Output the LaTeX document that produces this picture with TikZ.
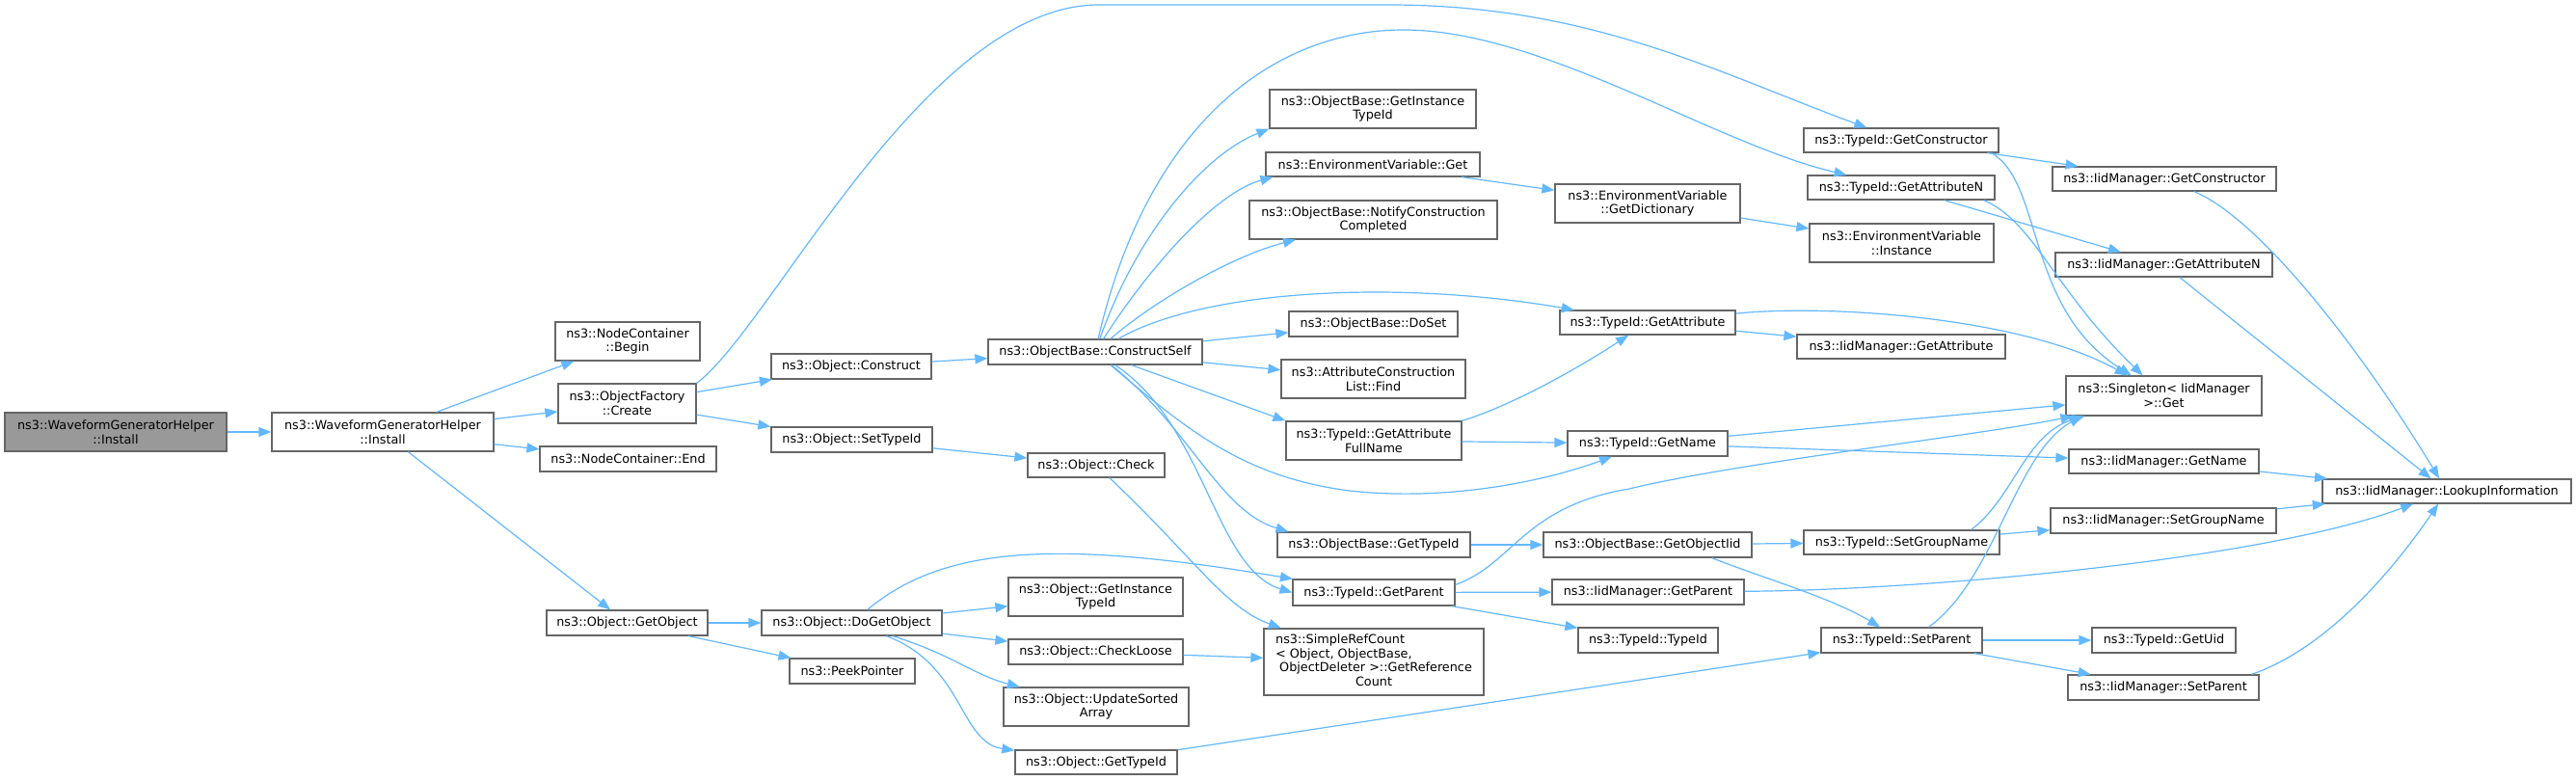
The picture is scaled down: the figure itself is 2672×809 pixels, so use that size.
\documentclass[tikz,border=0pt]{standalone}
\usepackage{fontspec}
\usetikzlibrary{arrows.meta,calc}
\newfontfamily\djv{DejaVu Sans}
\definecolor{edgeblue}{HTML}{63B8FF}
\definecolor{boxgray}{HTML}{666666}
\definecolor{rootfill}{HTML}{999999}
\newcommand\bx[7][]{\node[box,#1,minimum width={#5pt-#3pt},minimum height={#6pt-#4pt}] (#2) at ({(#3+#5)/2},{(#4+#6)/2}) {#7};}
\begin{document}
\begin{tikzpicture}[x=1pt,y=-1pt,
  box/.style={draw=boxgray,line width=1.2pt,fill=white,inner sep=0pt,align=center,font=\djv\fontsize{12.8}{14.6}\selectfont},
  edge/.style={draw=edgeblue,line width=1.2pt,-{Triangle[length=13pt,width=10pt]}}]
\useasboundingbox[fill=white] (0,0) rectangle (2672,809);
% nodes
\bx[fill=rootfill]{h1}{5}{428}{235}{468}{ns3::WaveformGeneratorHelper\\::Install}
\bx{h2}{282}{428}{512}{468}{ns3::WaveformGeneratorHelper\\::Install}
\bx{ncb}{576}{334}{726}{374}{ns3::NodeContainer\\::Begin}
\bx{ofc}{579}{398}{722}{439}{ns3::ObjectFactory\\::Create}
\bx{nce}{560}{463}{743}{489}{ns3::NodeContainer::End}
\bx{ogo}{567}{633}{734}{659}{ns3::Object::GetObject}
\bx{oc}{800}{367}{966}{393}{ns3::Object::Construct}
\bx{ost}{800}{443}{967}{469}{ns3::Object::SetTypeId}
\bx{cs}{1025}{352}{1247}{378}{ns3::ObjectBase::ConstructSelf}
\bx{ochk}{1066}{470}{1208}{495}{ns3::Object::Check}
\bx{dgo}{790}{633}{977}{659}{ns3::Object::DoGetObject}
\bx{pp}{819}{683}{949}{709}{ns3::PeekPointer}
\bx{ogit}{1046}{599}{1227}{639}{ns3::Object::GetInstance\\TypeId}
\bx{ocl}{1046}{663}{1227}{689}{ns3::Object::CheckLoose}
\bx{usa}{1041}{713}{1233}{753}{ns3::Object::UpdateSorted\\Array}
\bx{ogt}{1053}{778}{1221}{803}{ns3::Object::GetTypeId}
\bx{src}{1311}{652}{1539}{721}{\begin{tabular}{@{}l@{}}ns3::SimpleRefCount\\< Object, ObjectBase,\\\ ObjectDeleter >::GetReference\\\multicolumn{1}{@{}c@{}}{Count}\end{tabular}}
\bx{obgt}{1325}{552}{1525}{578}{ns3::ObjectBase::GetTypeId}
\bx{tgp}{1341}{601}{1509}{628}{ns3::TypeId::GetParent}
\bx{tgafn}{1334}{437}{1516}{477}{ns3::TypeId::GetAttribute\\FullName}
\bx{acl}{1329}{373}{1520}{413}{ns3::AttributeConstruction\\List::Find}
\bx{dos}{1337}{323}{1512}{349}{ns3::ObjectBase::DoSet}
\bx{ncc}{1296}{208}{1553}{248}{ns3::ObjectBase::NotifyConstruction\\Completed}
\bx{evg}{1313}{158}{1535}{183}{ns3::EnvironmentVariable::Get}
\bx{obgit}{1317}{93}{1531}{133}{ns3::ObjectBase::GetInstance\\TypeId}
\bx{evgd}{1613}{191}{1805}{231}{ns3::EnvironmentVariable\\::GetDictionary}
\bx{tga}{1618}{322}{1800}{347}{ns3::TypeId::GetAttribute}
\bx{tgc}{1871}{133}{2073}{158}{ns3::TypeId::GetConstructor}
\bx{tgan}{1875}{182}{2069}{207}{ns3::TypeId::GetAttributeN}
\bx{evi}{1877}{232}{2068}{272}{ns3::EnvironmentVariable\\::Instance}
\bx{imga}{1864}{347}{2080}{372}{ns3::IidManager::GetAttribute}
\bx{imgc}{2129}{173}{2361}{198}{ns3::IidManager::GetConstructor}
\bx{imgan}{2132}{262}{2357}{287}{ns3::IidManager::GetAttributeN}
\bx{sg}{2143}{390}{2346}{431}{ns3::Singleton< IidManager\\ >::Get}
\bx{tgn}{1626}{447}{1792}{473}{ns3::TypeId::GetName}
\bx{obgoi}{1601}{552}{1817}{578}{ns3::ObjectBase::GetObjectIid}
\bx{imgp}{1610}{601}{1809}{627}{ns3::IidManager::GetParent}
\bx{tti}{1637}{651}{1782}{677}{ns3::TypeId::TypeId}
\bx{tsgn}{1871}{550}{2074}{575}{ns3::TypeId::SetGroupName}
\bx{tsp}{1889}{651}{2056}{677}{ns3::TypeId::SetParent}
\bx{imgn}{2146}{466}{2343}{491}{ns3::IidManager::GetName}
\bx{imsgn}{2127}{527}{2361}{553}{ns3::IidManager::SetGroupName}
\bx{tgu}{2170}{651}{2319}{677}{ns3::TypeId::GetUid}
\bx{imsp}{2145}{700}{2343}{726}{ns3::IidManager::SetParent}
\bx{imli}{2409}{497}{2667}{522}{ns3::IidManager::LookupInformation}
% edges
\draw[edge] (h1) -- (h2);
\draw[edge] (h2) -- (ncb);
\draw[edge] (h2) -- (ofc);
\draw[edge] (h2) -- (nce);
\draw[edge] (h2) -- (ogo);
\draw[edge] (ofc.north east) .. controls (800,340) and (960,5) .. (1140,5) -- (1440,5) .. controls (1650,5) and (1780,75) .. (tgc);
\draw[edge] (ofc) -- (oc);
\draw[edge] (ofc) -- (ost);
\draw[edge] (oc) -- (cs);
\draw[edge] (ost) -- (ochk);
\draw[edge] (ochk) .. controls (1240,580) and (1270,630) .. (src);
\draw[edge] (ogo) -- (dgo);
\draw[edge] (ogo) -- (pp);
\draw[edge] (dgo) .. controls (980,565) and (1100,560) .. (tgp);
\draw[edge] (dgo) -- (ogit);
\draw[edge] (dgo) -- (ocl);
\draw[edge] (dgo) .. controls (990,680) and (1010,700) .. (usa);
\draw[edge] (dgo) .. controls (1000,690) and (995,770) .. (ogt);
\draw[edge] (ocl) -- (src);
\draw[edge] (ogt) -- (tsp);
\draw[edge] (cs) .. controls (1190,130) and (1320,31) .. (1456,31) .. controls (1600,31) and (1780,150) .. (tgan);
\draw[edge] (cs) .. controls (1180,240) and (1250,160) .. (obgit.south west);
\draw[edge] (cs) .. controls (1190,280) and (1260,200) .. ($(evg.south west)+(8,0)$);
\draw[edge] (cs) .. controls (1200,310) and (1280,265) .. (ncc);
\draw[edge] (cs) .. controls (1250,300) and (1450,290) .. (tga);
\draw[edge] (cs) -- (dos);
\draw[edge] (cs) -- (acl);
\draw[edge] (cs) -- (tgafn.north west);
\draw[edge] (cs) .. controls (1230,445) and (1290,495) .. (1400,509) .. controls (1500,520) and (1600,500) .. (tgn);
\draw[edge] (cs) .. controls (1235,445) and (1265,530) .. ($(obgt.north west)+(12,0)$);
\draw[edge] (cs) .. controls (1250,440) and (1260,590) .. (tgp.west);
\draw[edge] (evg) -- (evgd);
\draw[edge] (evgd) -- (evi);
\draw[edge] (tgafn.north east) .. controls (1570,420) and (1640,380) .. (tga);
\draw[edge] (tgafn) -- (tgn);
\draw[edge] (tga) .. controls (1900,315) and (2100,330) .. (sg);
\draw[edge] (tga) -- (imga);
\draw[edge] (tgc) -- (imgc);
\draw[edge] ($(tgc.south east)+(-8,0)$) .. controls (2120,190) and (2100,320) .. (sg);
\draw[edge] (tgan) -- (imgan);
\draw[edge] ($(tgan.south east)+(-12,0)$) .. controls (2110,230) and (2130,300) .. (sg);
\draw[edge] (imgc) .. controls (2350,230) and (2460,380) .. (imli);
\draw[edge] (imgan) -- (imli);
\draw[edge] (tgn) -- (sg);
\draw[edge] (tgn) -- (imgn);
\draw[edge] ($(tgp.north east)+(0,6)$) .. controls (1570,585) and (1580,525) .. (1690,507) .. controls (1800,480) and (2050,452) .. ($(sg.south west)+(8,0)$);
\draw[edge] (tgp) -- (imgp);
\draw[edge] (tgp) -- (tti);
\draw[edge] (obgt) -- (obgoi);
\draw[edge] (obgoi) -- (tsgn);
\draw[edge] ($(obgoi.south east)+(-42,0)$) .. controls (1830,600) and (1900,620) .. (tsp);
\draw[edge] ($(tsgn.north east)+(-30,0)$) .. controls (2090,515) and (2100,450) .. ($(sg.south west)+(20,0)$);
\draw[edge] (tsgn) -- (imsgn);
\draw[edge] (imgp) .. controls (2000,612) and (2350,580) .. (imli);
\draw[edge] (imgn) -- (imli);
\draw[edge] (imsgn) -- (imli);
\draw[edge] ($(tsp.north)+(28,0)$) .. controls (2070,600) and (2090,470) .. ($(sg.south west)+(17,0)$);
\draw[edge] (tsp) -- (tgu);
\draw[edge] (tsp) -- (imsp);
\draw[edge] ($(imsp.north east)+(-8,0)$) .. controls (2420,670) and (2490,580) .. (imli);
\end{tikzpicture}
\end{document}
